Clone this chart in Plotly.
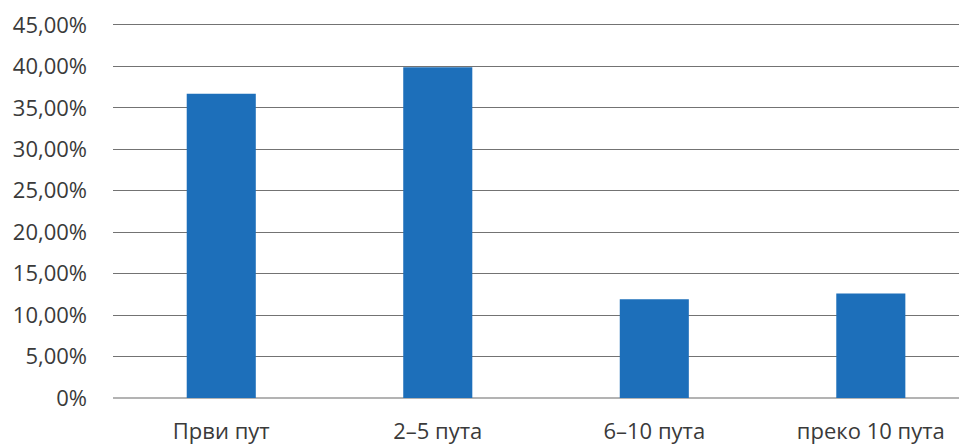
import plotly.graph_objects as go

categories = ["Први пут", "2–5 пута", "6–10 пута", "преко 10 пута"]
values = [36.7, 39.9, 11.9, 12.6]
tick_vals = [0, 5, 10, 15, 20, 25, 30, 35, 40, 45]
tick_text = ["0%", "5,00%", "10,00%", "15,00%", "20,00%", "25,00%", "30,00%", "35,00%", "40,00%", "45,00%"]

fig = go.Figure(
    go.Bar(
        x=list(range(len(categories))),
        y=values,
        marker=dict(color="#1d6fba", line=dict(width=0)),
        width=0.319,
    )
)

fig.update_layout(
    width=967,
    height=444,
    margin=dict(l=105, r=10, t=15, b=54, autoexpand=False),
    plot_bgcolor="white",
    paper_bgcolor="white",
    showlegend=False,
    font=dict(family="Open Sans", size=22, color="#3a3a3a"),
)
fig.update_xaxes(
    range=[-0.5, 3.435],
    tickvals=list(range(len(categories))),
    ticktext=categories,
    showgrid=False,
    showline=False,
    zeroline=False,
    ticks="",
    ticklabelstandoff=18,
    automargin=False,
)
fig.update_yaxes(
    range=[0, 45.24],
    tickvals=tick_vals,
    ticktext=tick_text,
    showgrid=True,
    gridcolor="#737373",
    gridwidth=1,
    zeroline=True,
    zerolinecolor="#b3b3b3",
    zerolinewidth=2,
    showline=False,
    ticks="",
    ticklabelstandoff=25,
    ticklabeloverflow="allow",
    automargin=False,
)

fig.write_html("out.html")
